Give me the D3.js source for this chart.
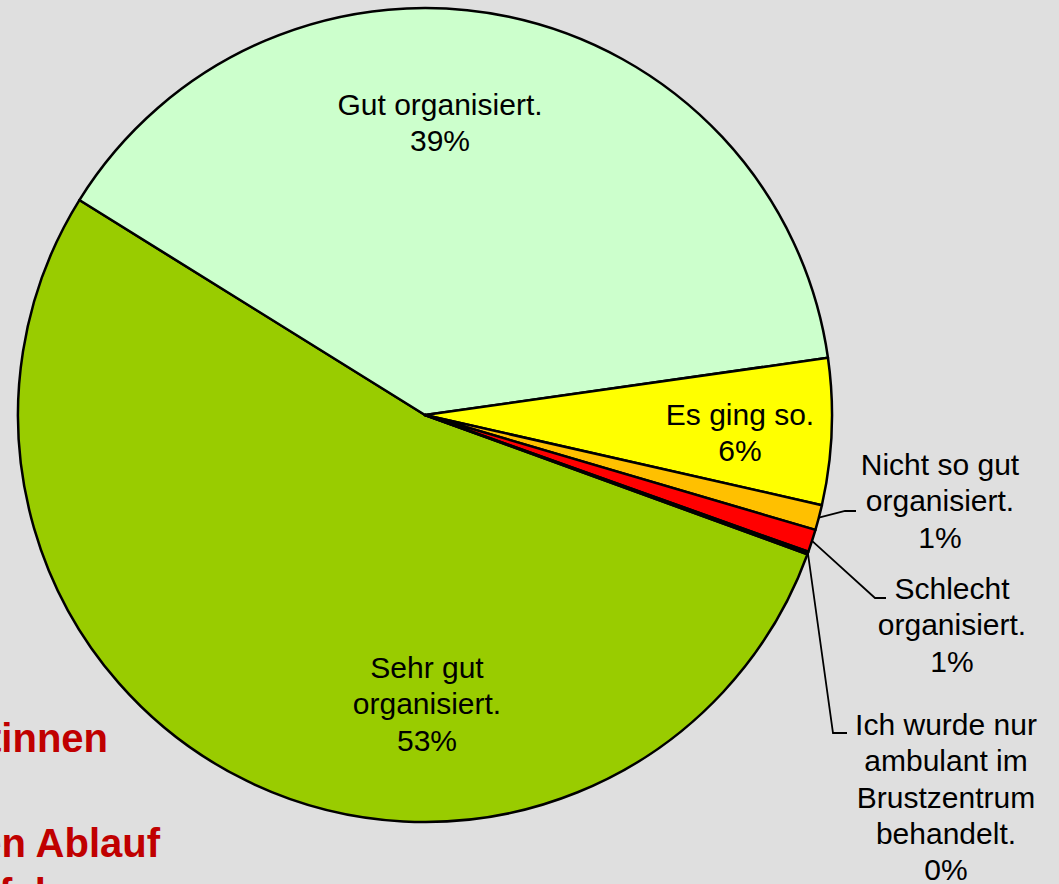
<!DOCTYPE html>
<html>
<head>
<meta charset="utf-8">
<title>Organisation</title>
<style>
  body { margin: 0; background: #dfdfdf; }
  svg { display: block; }
  text { font-family: "Liberation Sans", Arial, sans-serif; }
</style>
</head>
<body>
<div id="chart"></div>
<script src="https://d3js.org/d3.v7.min.js"></script>
<script>
// data (clockwise from Sehr gut)
var categories = [
  "Sehr gut organisiert.",
  "Gut organisiert.",
  "Es ging so.",
  "Nicht so gut organisiert.",
  "Schlecht organisiert.",
  "Ich wurde nur ambulant im Brustzentrum behandelt."
];
var values = [53.3, 38.9, 5.8, 1.0, 0.9, 0.1];
var colors = ["#99cc00", "#ccffcc", "#ffff00", "#ffc000", "#ff0000", "#ff9900"];

// label lines as shown
var labelLines = [
  ["Sehr gut", "organisiert."],
  ["Gut organisiert."],
  ["Es ging so."],
  ["Nicht so gut", "organisiert."],
  ["Schlecht", "organisiert."],
  ["Ich wurde nur", "ambulant im", "Brustzentrum", "behandelt."]
];

// layout
var width = 1059, height = 884;
var cx = 425, cy = 415, radius = 407;
var startDeg = 110;
var labelPos = [
  {x: 427, y: 678},
  {x: 440, y: 115},
  {x: 740, y: 425},
  {x: 940, y: 475, line: [[845, 511], [856, 511]]},
  {x: 952, y: 599, line: [[875, 598], [886, 598]]},
  {x: 946, y: 735, line: [[833, 733], [847, 733]]}
];
var lineH = 36.3;

var svg = d3.select("#chart").append("svg")
    .attr("width", width)
    .attr("height", height);

// red text behind the chart (cut by the edges, as in the picture)
var redText = svg.append("g")
    .attr("font-weight", "bold")
    .attr("font-size", "40px")
    .attr("fill", "#c00000")
    .attr("text-anchor", "end");
redText.append("text").attr("x", 108).attr("y", 752).text("Patientinnen");
redText.append("text").attr("x", 160).attr("y", 857).text("den Ablauf");
redText.append("text").attr("x", 148).attr("y", 907).text("Erfahrung");

var data = categories.map(function(c, i) { return {name: c, value: values[i], i: i}; });

var pie = d3.pie()
    .sort(null)
    .value(function(d) { return d.value; })
    .startAngle(startDeg * Math.PI / 180)
    .endAngle(startDeg * Math.PI / 180 + 2 * Math.PI);

var arc = d3.arc().innerRadius(0).outerRadius(radius);

var arcs = pie(data);
var g = svg.append("g").attr("transform", "translate(" + cx + "," + cy + ")");

g.selectAll("path")
  .data(arcs)
  .enter().append("path")
    .attr("d", arc)
    .attr("fill", function(d) { return colors[d.data.i]; })
    .attr("stroke", "#000")
    .attr("stroke-width", 2.5)
    .attr("stroke-linejoin", "round");

// leader lines
arcs.forEach(function(d) {
  var p = labelPos[d.data.i];
  if (!p.line) return;
  var a = (d.startAngle + d.endAngle) / 2;
  var sx = cx + Math.sin(a) * radius, sy = cy - Math.cos(a) * radius;
  var pts = [[sx, sy]].concat(p.line);
  svg.append("path")
    .attr("d", d3.line()(pts))
    .attr("fill", "none")
    .attr("stroke", "#000")
    .attr("stroke-width", 1.8);
});

// labels
var fmt = d3.format(".0f");
arcs.forEach(function(d) {
  var p = labelPos[d.data.i];
  var lines = labelLines[d.data.i].concat([fmt(d.data.value) + "%"]);
  var t = svg.append("text")
    .attr("text-anchor", "middle")
    .attr("font-size", "30px")
    .attr("fill", "#000");
  lines.forEach(function(l, k) {
    t.append("tspan").attr("x", p.x).attr("y", p.y + k * lineH).text(l);
  });
});
</script>
</body>
</html>
